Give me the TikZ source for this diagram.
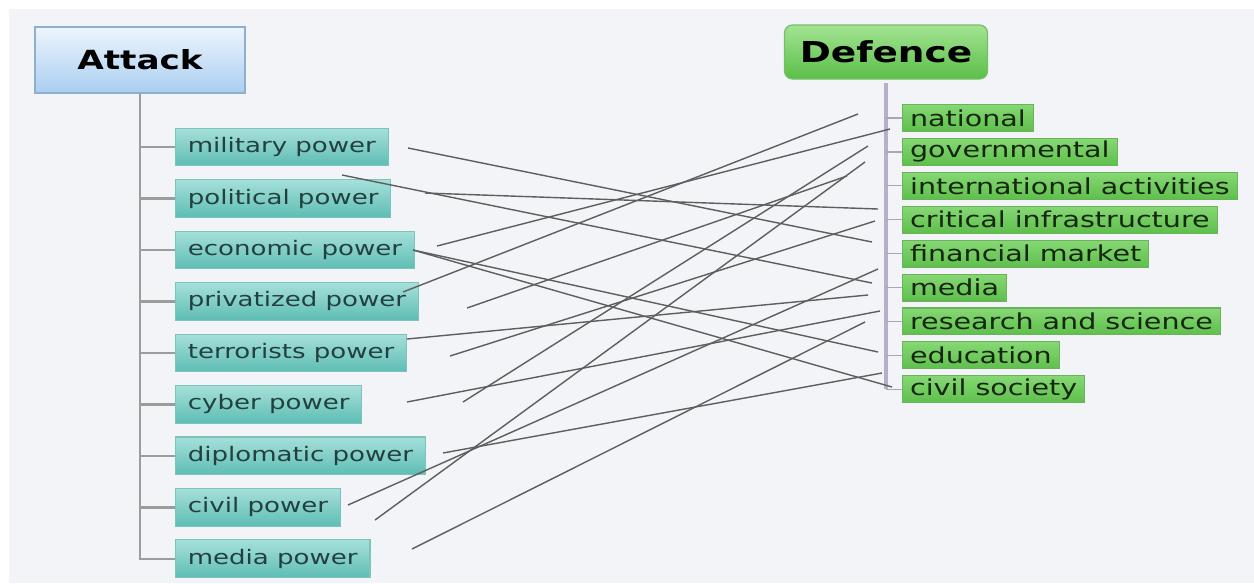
\documentclass[tikz,border=0pt]{standalone}
\usepackage{fontspec}
\setmainfont{DejaVu Sans}[FakeStretch=1.3]
\usetikzlibrary{positioning}
\definecolor{bgGrey}{HTML}{F3F4F8}
\definecolor{atkTop}{HTML}{EEF5FD}
\definecolor{atkBot}{HTML}{A9CEF0}
\definecolor{atkEdge}{HTML}{8FAFCF}
\definecolor{pwrTop}{HTML}{A6E0DA}
\definecolor{pwrBot}{HTML}{5DBDB4}
\definecolor{pwrEdge}{HTML}{7CC3BC}
\definecolor{pwrText}{HTML}{23403F}
\definecolor{defTop}{HTML}{A3E493}
\definecolor{defBot}{HTML}{5BBE48}
\definecolor{defEdge}{HTML}{77BE66}
\definecolor{areaTop}{HTML}{86D874}
\definecolor{areaBot}{HTML}{5EBF4C}
\definecolor{areaEdge}{HTML}{6AB35A}
\definecolor{areaText}{HTML}{16260F}
\definecolor{linkGrey}{HTML}{5E5E5E}
\definecolor{stemGrey}{HTML}{9C9C9C}
\definecolor{stemLila}{HTML}{B7AFC9}
\tikzset{
  every picture/.style={line width=0.8pt},
  head/.style={draw, line width=0.7pt, inner sep=0pt, font=\bfseries\fontsize{15}{17}\selectfont},
  atk/.style={head, draw=atkEdge, top color=atkTop, bottom color=atkBot, minimum width=4.2cm, minimum height=1.32cm},
  dfn/.style={head, draw=defEdge, top color=defTop, bottom color=defBot, rounded corners=4.5pt, minimum width=4.06cm, minimum height=1.08cm, font=\bfseries\fontsize{16.4}{18}\selectfont},
  pwr/.style={draw=pwrEdge, line width=0.6pt, top color=pwrTop, bottom color=pwrBot, text=pwrText, minimum height=21.5pt, inner xsep=7pt, inner ysep=0pt, font=\fontsize{11.4}{13}\selectfont},
  area/.style={draw=areaEdge, line width=0.6pt, top color=areaTop, bottom color=areaBot, text=areaText, minimum height=15.3pt, inner xsep=4.3pt, inner ysep=0pt, font=\fontsize{12.5}{14}\selectfont},
  stem/.style={draw=stemGrey, line width=1.3pt},
  lstem/.style={draw=stemLila, line width=2.3pt},
  ltwig/.style={draw=stemLila!80!gray, line width=0.7pt},
  link/.style={draw=linkGrey, line width=0.8pt}
}
\begin{document}
\begin{tikzpicture}[x=0.02cm, y=-0.02cm]
    \useasboundingbox (0,0) rectangle (1254,583);
    \fill[white] (0,0) rectangle (1254,583);
    \fill[bgGrey] (9,9) rectangle (1254,583);

    % attack side
    \node [atk] (atk) at (140,60) {Attack};
    \node [pwr, anchor=west] (mil) at (175,147) {military power};
    \node [pwr, below=7.2pt of mil.south west, anchor=north west] (pol) {political power};
    \node [pwr, below=7.2pt of pol.south west, anchor=north west] (eco) {economic power};
    \node [pwr, below=7.2pt of eco.south west, anchor=north west] (pri) {privatized power};
    \node [pwr, below=7.2pt of pri.south west, anchor=north west] (ter) {terrorists power};
    \node [pwr, below=7.2pt of ter.south west, anchor=north west] (cyb) {cyber power};
    \node [pwr, below=7.2pt of cyb.south west, anchor=north west] (dip) {diplomatic power};
    \node [pwr, below=7.2pt of dip.south west, anchor=north west] (civ) {civil power};
    \node [pwr, below=7.2pt of civ.south west, anchor=north west] (med) {media power};

    % defence side
    \node [dfn] (dfn) at (886,52) {Defence};
    \node [area, anchor=west] (nat) at (902,118) {national};
    \node [area, below=3.4pt of nat.south west, anchor=north west] (gov) {governmental};
    \node [area, below=3.4pt of gov.south west, anchor=north west] (int) {international activities};
    \node [area, below=3.4pt of int.south west, anchor=north west] (cri) {critical infrastructure};
    \node [area, below=3.4pt of cri.south west, anchor=north west] (fin) {financial market};
    \node [area, below=3.4pt of fin.south west, anchor=north west] (mda) {media};
    \node [area, below=3.4pt of mda.south west, anchor=north west] (res) {research and science};
    \node [area, below=3.4pt of res.south west, anchor=north west] (edu) {education};
    \node [area, below=3.4pt of edu.south west, anchor=north west] (soc) {civil society};

    % trees
    \draw[stem] (atk.south) |- (mil.west);
    \draw[stem] (atk.south) |- (pol.west);
    \draw[stem] (atk.south) |- (eco.west);
    \draw[stem] (atk.south) |- (pri.west);
    \draw[stem] (atk.south) |- (ter.west);
    \draw[stem] (atk.south) |- (cyb.west);
    \draw[stem] (atk.south) |- (dip.west);
    \draw[stem] (atk.south) |- (civ.west);
    \draw[stem] (atk.south) |- (med.west);

    \draw[lstem] ([yshift=-2pt]dfn.south) -- (dfn.south |- soc.west);
    \draw[ltwig] (dfn.south |- nat.west) -- (nat.west);
    \draw[ltwig] (dfn.south |- gov.west) -- (gov.west);
    \draw[ltwig] (dfn.south |- int.west) -- (int.west);
    \draw[ltwig] (dfn.south |- cri.west) -- (cri.west);
    \draw[ltwig] (dfn.south |- fin.west) -- (fin.west);
    \draw[ltwig] (dfn.south |- mda.west) -- (mda.west);
    \draw[ltwig] (dfn.south |- res.west) -- (res.west);
    \draw[ltwig] (dfn.south |- edu.west) -- (edu.west);
    \draw[ltwig] (dfn.south |- soc.west) -- (soc.west);

    % loose ends of the links
    \coordinate (a1) at (408,148);
    \coordinate (a2) at (342,175);
    \coordinate (a3) at (425,193);
    \coordinate (a4) at (413,250);
    \coordinate (a5) at (437,246);
    \coordinate (a6) at (403,292);
    \coordinate (a7) at (467,308);
    \coordinate (a8) at (407,339);
    \coordinate (a9) at (450,356);
    \coordinate (a10) at (407,402);
    \coordinate (a11) at (463,402);
    \coordinate (a12) at (443,453);
    \coordinate (a13) at (348,505);
    \coordinate (a14) at (375,520);
    \coordinate (a15) at (412,549);

    \coordinate (d1) at (858,114);
    \coordinate (d2) at (890,129);
    \coordinate (d3) at (868,146);
    \coordinate (d4) at (865,162);
    \coordinate (d5) at (847,176);
    \coordinate (d6) at (878,209);
    \coordinate (d7) at (875,221);
    \coordinate (d8) at (872,242);
    \coordinate (d9) at (878,269);
    \coordinate (d10) at (872,283);
    \coordinate (d11) at (868,295);
    \coordinate (d12) at (880,311);
    \coordinate (d13) at (865,322);
    \coordinate (d14) at (878,352);
    \coordinate (d15) at (882,373);
    \coordinate (d16) at (892,387);

    \draw[link] (a1) -- (d8);
    \draw[link] (a2) -- (d10);
    \draw[link] (a3) -- (d6);
    \draw[link] (a4) -- (d14);
    \draw[link] (a4) -- (d16);
    \draw[link] (a5) -- (d2);
    \draw[link] (a6) -- (d1);
    \draw[link] (a7) -- (d5);
    \draw[link] (a8) -- (d11);
    \draw[link] (a9) -- (d7);
    \draw[link] (a10) -- (d12);
    \draw[link] (a11) -- (d3);
    \draw[link] (a12) -- (d15);
    \draw[link] (a13) -- (d9);
    \draw[link] (a14) -- (d4);
    \draw[link] (a15) -- (d13);
\end{tikzpicture}
\end{document}
